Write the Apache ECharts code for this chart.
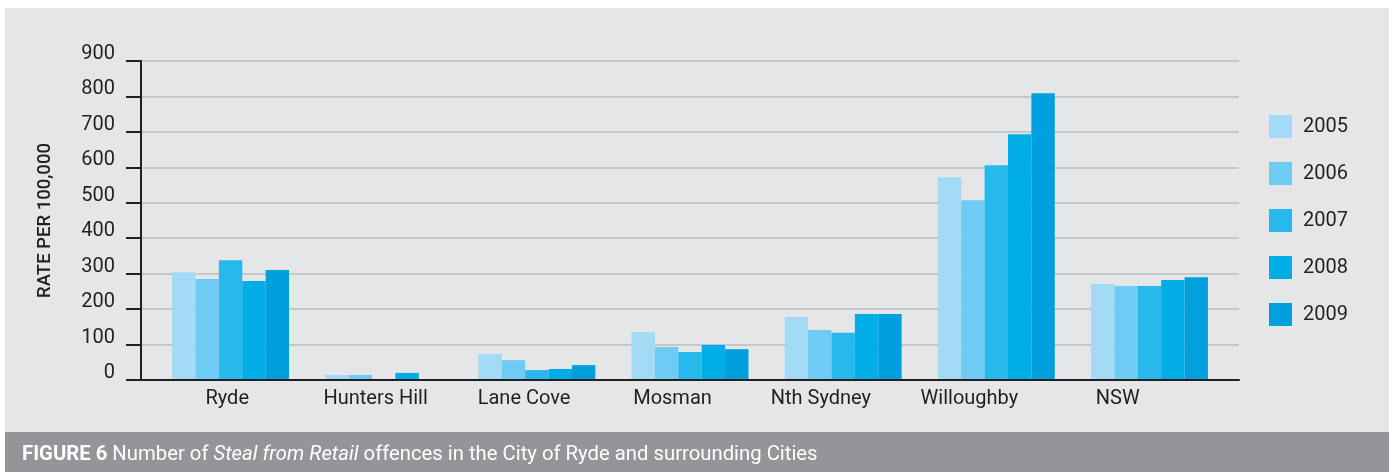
<!DOCTYPE html>
<html>
<head>
<meta charset="utf-8">
<script src="https://cdn.jsdelivr.net/npm/echarts@6/dist/echarts.min.js"></script>
<style>
html, body { margin: 0; padding: 0; background: #fff; }
#chart { width: 1397px; height: 472px; }
</style>
</head>
<body>
<div id="chart"></div>
<script>
// data
const categories = ['Ryde', 'Hunters Hill', 'Lane Cove', 'Mosman', 'Nth Sydney', 'Willoughby', 'NSW'];
const years = ['2005', '2006', '2007', '2008', '2009'];
const rate2005 = [304, 14, 73, 135, 178, 572, 271];
const rate2006 = [285, 14, 56, 93, 141, 507, 265];
const rate2007 = [338, 0, 28, 79, 133, 606, 265];
const rate2008 = [279, 20, 31, 99, 186, 693, 282];
const rate2009 = [310, 0, 42, 87, 186, 809, 290];
const yTicks = [0, 900, 100]; // min, max, interval

const seriesValues = [rate2005, rate2006, rate2007, rate2008, rate2009];
const yearColors = ['#a3daf5', '#6ecbf3', '#27b9ec', '#00ade6', '#009fdd'];
const textColor = '#231f20';
const font = 'Roboto, "Noto Sans", sans-serif';

const chart = echarts.init(document.getElementById('chart'), null, { renderer: 'canvas' });

const gridTop = 61, gridBottom = 92;

chart.setOption({
    backgroundColor: '#ffffff',
    animation: false,
    textStyle: { fontFamily: font, color: textColor },
    graphic: [
        { type: 'rect', z: -10, silent: true, shape: { x: 5, y: 8, width: 1384, height: 424 }, style: { fill: '#e5e6e8' } },
        { type: 'rect', z: -10, silent: true, shape: { x: 5, y: 432, width: 1384, height: 40 }, style: { fill: '#939598' } },
        {
            type: 'text', z: 10, left: 22, top: 445,
            style: {
                text: '{b|FIGURE 6} Number of {i|Steal from Retail} offences in the City of Ryde and surrounding Cities',
                fill: '#ffffff',
                font: '20.3px ' + font,
                rich: {
                    b: { fontWeight: 'bold', fontSize: 20.3, fontFamily: font, fill: '#ffffff' },
                    i: { fontStyle: 'italic', fontSize: 20.3, fontFamily: font, fill: '#ffffff' },
                },
            },
        },
    ],
    legend: {
        data: years,
        orient: 'vertical',
        left: 1269,
        top: 115,
        padding: 0,
        itemWidth: 23,
        itemHeight: 23,
        itemGap: 24,
        icon: 'rect',
        textStyle: { fontSize: 20, color: textColor, fontFamily: font, padding: [0, 0, 0, 6] },
    },
    grid: [
        { left: 141, right: 158, top: gridTop, bottom: gridBottom },
        { left: 154, width: 1072, top: gridTop, bottom: gridBottom },
        { left: 153, width: 1039, top: gridTop, bottom: gridBottom },
    ],
    xAxis: [
        {
            gridIndex: 0, type: 'category', data: categories, z: 5,
            axisLine: { lineStyle: { color: '#231f20', width: 2 } },
            axisTick: { show: false },
            axisLabel: { show: false },
        },
        { gridIndex: 1, type: 'category', data: categories, show: false },
        {
            gridIndex: 2, type: 'category', data: categories,
            axisLine: { show: false },
            axisTick: { show: false },
            axisLabel: { fontSize: 20, color: textColor, margin: 9, fontFamily: font },
        },
    ],
    yAxis: [
        {
            gridIndex: 0, type: 'value', min: yTicks[0], max: yTicks[1], interval: yTicks[2],
            name: 'RATE PER 100,000',
            nameLocation: 'middle',
            nameGap: 86,
            nameTextStyle: { fontSize: 18.5, fontWeight: 500, color: textColor, fontFamily: font },
            axisLine: { show: true, lineStyle: { color: '#231f20', width: 2 } },
            axisTick: { show: true, length: 15, lineStyle: { color: '#231f20', width: 2 } },
            splitLine: { lineStyle: { color: '#bcbdc0', width: 1.5 } },
            axisLabel: {
                fontSize: 20, color: textColor, margin: 26, fontFamily: font,
                verticalAlign: 'bottom', lineHeight: 14,
            },
        },
        { gridIndex: 1, type: 'value', min: yTicks[0], max: yTicks[1], show: false },
        { gridIndex: 2, type: 'value', min: yTicks[0], max: yTicks[1], show: false },
    ],
    series: years.map((y, i) => ({
        name: y,
        type: 'bar',
        xAxisIndex: 1,
        yAxisIndex: 1,
        data: seriesValues[i],
        barGap: 0,
        barCategoryGap: '23.6%',
        itemStyle: { color: yearColors[i] },
    })),
});
</script>
</body>
</html>
